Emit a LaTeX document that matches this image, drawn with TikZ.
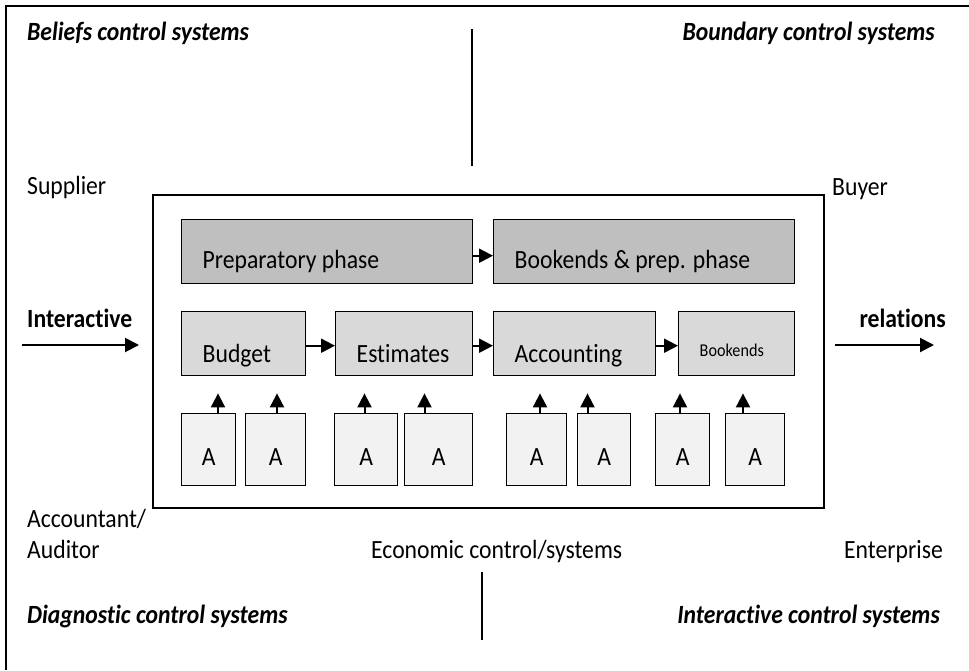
\documentclass[tikz,border=0pt]{standalone}
\usepackage{fontspec}
\setmainfont{Carlito}[FakeStretch=0.9, Ligatures=NoCommon]
\usetikzlibrary{arrows.meta,positioning}
\definecolor{phasegray}{HTML}{BFBFBF}
\definecolor{stepgray}{HTML}{D9D9D9}
\definecolor{agentgray}{HTML}{F2F2F2}
\newcommand{\diagfont}{\fontsize{26.3}{30}\selectfont}

\begin{document}
\begin{tikzpicture}[x=1pt, y=-1pt,
  font=\diagfont,
  lbl/.style={inner sep=0pt},
  strong/.style={lbl, font=\diagfont\bfseries},
  quad/.style={lbl, font=\diagfont\bfseries\itshape},
  phase/.style={draw, line width=1.4pt, fill=phasegray, anchor=north west, minimum height=64pt,
    inner xsep=21pt, inner ysep=0pt, align=flush left, text height=40pt, text depth=6pt},
  stepbox/.style={phase, fill=stepgray, text height=42pt, text depth=4pt},
  agent/.style={draw, line width=1.4pt, fill=agentgray, anchor=north west, minimum height=72pt,
    inner sep=0pt, text height=36pt, text depth=4pt},
  flow/.style={-{Triangle[length=14pt,width=14pt]}, line width=2pt},
  rule/.style={line width=2pt}
]
  \useasboundingbox (0,0) rectangle (969,670);

  % Frame and dividers
  \draw[rule] (6,670) -- (6,6) -- (969,6);
  \draw[rule] (472,29) -- (472,166);
  \draw[rule] (482,572) -- (482,640);

  % Control systems
  \node[quad, anchor=base west] (beliefs) at (27,40) {Beliefs control systems};
  \node[quad, anchor=base east] (boundary) at (935,40) {Boundary control systems};
  \node[quad, anchor=base west] (diagnostic) at (27,623) {Diagnostic control systems};
  \node[quad, anchor=base east] (interactivecs) at (940,623) {Interactive control systems};

  % Parties
  \node[lbl, anchor=base west] (supplier) at (27,194) {Supplier};
  \node[lbl, anchor=base west] (buyer) at (832,195) {Buyer};
  \node[lbl, anchor=base west] (accountant) at (27,527) {Accountant/};
  \node[lbl, anchor=base west] (auditor) at (27,558) {Auditor};
  \node[lbl, anchor=base west] (economic) at (371,558) {Economic control/systems};
  \node[lbl, anchor=base east] (enterprise) at (943,558) {Enterprise};
  \node[strong, anchor=base west] (interactive) at (27,327) {Interactive};
  \node[strong, anchor=base east] (relations) at (946,327) {relations};

  % Process box
  \node[draw, rule, anchor=north west, minimum width=671pt, minimum height=313pt] (core) at (152,194) {};

  \node[phase, minimum width=291pt, text width=249pt] (prep) at (181,219) {Preparatory phase};
  \node[phase, minimum width=301pt, text width=259pt] (bookprep) at (493,219) {Bookends \& prep. phase};

  \node[stepbox, minimum width=124pt, text width=82pt] (budget) at (181,311) {Budget};
  \node[stepbox, minimum width=137pt, text width=95pt] (estimates) at (335,311) {Estimates};
  \node[stepbox, minimum width=162pt, text width=120pt] (accounting) at (493,311) {Accounting};
  \node[stepbox, minimum width=116pt, text width=74pt, font=\fontsize{18}{22}\selectfont,
    text height=30pt, text depth=4pt] (bookends) at (678,311) {Bookends};

  \foreach \n/\x/\w in {1/181/54, 2/245/60, 3/334/63, 4/404/68, 5/506/60, 6/577/53, 7/655/54, 8/725/59}
    \node[agent, minimum width=\w pt] (a\n) at (\x,413) {A};

  % Flows
  \draw[flow] ([yshift=-4pt]prep.east) -- ([yshift=-4pt]bookprep.west);
  \draw[flow] ([yshift=-2pt]budget.east) -- ([yshift=-2pt]estimates.west);
  \draw[flow] ([yshift=-2pt]estimates.east) -- ([yshift=-2pt]accounting.west);
  \draw[flow] ([yshift=-2pt]accounting.east) -- ([yshift=-2pt]bookends.west);

  \foreach \n/\dx/\t in {1/37/budget, 2/32/budget, 3/30.5/estimates, 4/20.5/estimates,
      5/34/accounting, 6/10.5/accounting, 7/25/bookends, 8/18/bookends}
    \draw[flow, shorten >=17pt] ([xshift=\dx pt]a\n.north west) -- ([xshift=\dx pt]a\n.north west |- \t.south);

  \coordinate (inlet) at (22,345);
  \coordinate (outlet) at (934,345);
  \draw[flow, shorten >=13pt] (inlet) -- (inlet -| core.west);
  \draw[flow, shorten <=10pt] (outlet -| core.east) -- (outlet);
\end{tikzpicture}
\end{document}
